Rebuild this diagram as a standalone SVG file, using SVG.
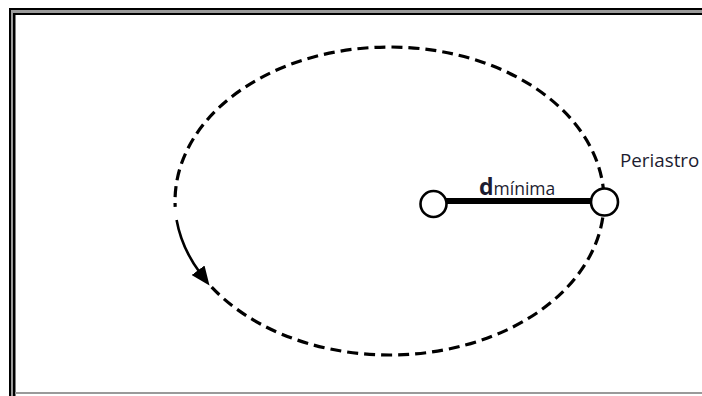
<svg xmlns="http://www.w3.org/2000/svg" width="702" height="396" viewBox="0 0 702 396">
<style>
.frame{fill:#000}
.gray{fill:#9a9a9a}
.orbit{fill:none;stroke:#000;stroke-width:3.2;stroke-dasharray:11 6}
.solid{fill:none;stroke:#000;stroke-width:2.6}
.body{fill:#fff;stroke:#000;stroke-width:2.6}
.lbl{font-family:"Open Sans","Noto Sans",sans-serif;fill:#1c1c30}
</style>
<defs>
<marker id="ah" markerUnits="userSpaceOnUse" markerWidth="20" markerHeight="16" refX="4" refY="8" orient="auto">
<path d="M0,0 L19,8 L0,16 z" fill="#000"/>
</marker>
</defs>
<rect width="702" height="396" fill="#fff"/>
<g id="frame">
<rect class="frame" x="9" y="8" width="693" height="2"/>
<rect class="gray" x="11" y="10" width="691" height="3"/>
<rect class="frame" x="13" y="13" width="689" height="2"/>
<rect class="frame" x="9" y="8" width="2" height="388"/>
<rect class="gray" x="11" y="10" width="2" height="386"/>
<rect class="frame" x="13" y="13" width="2.5" height="383"/>
<rect class="gray" x="15" y="392" width="687" height="2"/>
</g>
<g id="connectors">
<path id="orbit" class="orbit" d="M211.7,287.1 A214.5,154 0 1 0 175.2,206.9"/>
<path id="motion-arrow" class="solid" d="M176.6,220 A214.5,154 0 0 0 200.5,273.5" marker-end="url(#ah)"/>
<line id="d-min" x1="446" y1="201" x2="591" y2="201" stroke="#000" stroke-width="6"/>
</g>
<g id="star">
<circle class="body" cx="433.5" cy="204" r="13"/>
</g>
<g id="planet">
<circle class="body" cx="604.5" cy="202" r="13.5"/>
</g>
<g id="label-d">
<text class="lbl" x="479" y="195"><tspan font-size="23" font-weight="bold">d</tspan><tspan font-size="17.5">mínima</tspan></text>
</g>
<g id="label-periastro">
<text class="lbl" x="620" y="167" font-size="18.8">Periastro</text>
</g>
</svg>
